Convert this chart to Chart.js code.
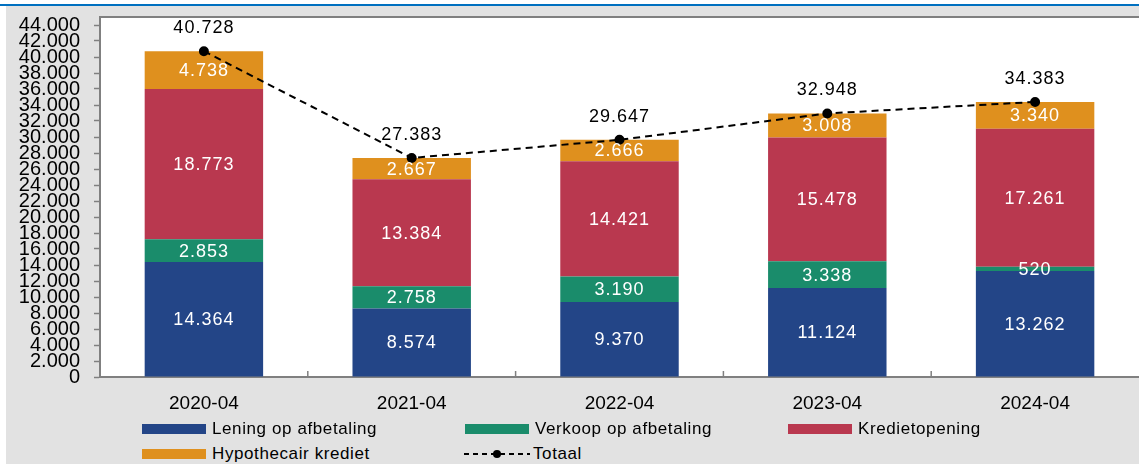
<!DOCTYPE html>
<html>
<head>
<meta charset="utf-8">
<script src="https://cdn.jsdelivr.net/npm/chart.js@4.4.1/dist/chart.umd.min.js"></script>
<style>
  html, body { margin: 0; padding: 0; }
  body { width: 1139px; height: 464px; overflow: hidden; position: relative; background: #fff; font-family: "Liberation Sans", Arial, sans-serif; }
  #topline { position: absolute; left: 0; top: 4px; width: 1139px; height: 2px; background: #0070c0; }
  #panel { position: absolute; left: 6px; top: 6px; width: 1133px; height: 458px; background: #e2e2e2; }
  #wrap { position: absolute; left: 0; top: 0; width: 1145px; height: 420px; }
  .leg { position: absolute; font-size: 17px; color: #000; letter-spacing: 0.6px; line-height: 20px; white-space: nowrap; }
  .sw { position: absolute; height: 10px; }
</style>
</head>
<body>
<div id="topline"></div>
<div id="panel"></div>
<div id="wrap"><canvas id="chart"></canvas></div>
<div id="legend"></div>
<script>
// data
const categories = ['2020-04', '2021-04', '2022-04', '2023-04', '2024-04'];
const leningOpAfbetaling = [14364, 8574, 9370, 11124, 13262];
const verkoopOpAfbetaling = [2853, 2758, 3190, 3338, 520];
const kredietopening = [18773, 13384, 14421, 15478, 17261];
const hypothecairKrediet = [4738, 2667, 2666, 3008, 3340];
const totaal = [40728, 27383, 29647, 32948, 34383];
const yTicks = [0, 2000, 4000, 6000, 8000, 10000, 12000, 14000, 16000, 18000, 20000, 22000,
  24000, 26000, 28000, 30000, 32000, 34000, 36000, 38000, 40000, 42000, 44000];

const colors = {
  lening: '#234587',
  verkoop: '#1a8c6b',
  krediet: '#b9384f',
  hypo: '#df901e'
};

const fmt = v => String(v).replace(/\B(?=(\d{3})+(?!\d))/g, '.');

// labels inside the bars and above the total line
const labelPlugin = {
  id: 'valueLabels',
  beforeDraw(chart) {
    const { ctx, chartArea: a } = chart;
    ctx.save();
    ctx.fillStyle = '#fff';
    ctx.fillRect(a.left, a.top, a.right - a.left, a.bottom - a.top);
    ctx.restore();
  },
  afterDatasetsDraw(chart) {
    const ctx = chart.ctx;
    ctx.save();
    ctx.textAlign = 'center';
    ctx.textBaseline = 'middle';
    ctx.letterSpacing = '1px';
    ctx.font = '18px "Liberation Sans", Arial, sans-serif';
    chart.data.datasets.forEach((ds, i) => {
      const meta = chart.getDatasetMeta(i);
      if (ds.type === 'line') {
        ctx.fillStyle = '#000';
        meta.data.forEach((pt, j) => ctx.fillText(fmt(ds.data[j]), pt.x, pt.y - 23));
      } else {
        ctx.fillStyle = '#fff';
        meta.data.forEach((bar, j) => ctx.fillText(fmt(ds.data[j]), bar.x, (bar.y + bar.base) / 2 + 1));
      }
    });
    ctx.restore();
  },
  afterDraw(chart) {
    // plot frame top + small inward ticks between categories
    const { ctx, chartArea: a } = chart;
    const x = chart.scales.x;
    ctx.save();
    ctx.strokeStyle = '#808080';
    ctx.lineWidth = 2;
    ctx.beginPath();
    ctx.moveTo(a.left, a.top);
    ctx.lineTo(a.right, a.top);
    ctx.stroke();
    ctx.lineWidth = 1.5;
    for (let i = 1; i < categories.length; i++) {
      const px = (x.getPixelForValue(i - 1) + x.getPixelForValue(i)) / 2;
      ctx.beginPath();
      ctx.moveTo(px, a.bottom);
      ctx.lineTo(px, a.bottom - 6);
      ctx.stroke();
    }
    ctx.restore();
  }
};

const barDs = (label, data, color) => ({
  type: 'bar', label, data, backgroundColor: color, stack: 'bars', order: 1,
  barPercentage: 0.57, categoryPercentage: 1
});

new Chart(document.getElementById('chart'), {
  data: {
    labels: categories,
    datasets: [
      barDs('Lening op afbetaling', leningOpAfbetaling, colors.lening),
      barDs('Verkoop op afbetaling', verkoopOpAfbetaling, colors.verkoop),
      barDs('Kredietopening', kredietopening, colors.krediet),
      barDs('Hypothecair krediet', hypothecairKrediet, colors.hypo),
      {
        type: 'line', label: 'Totaal', data: totaal, stack: 'total', order: 0,
        borderColor: '#000', borderWidth: 2, borderDash: [7, 5],
        pointRadius: 4, pointBackgroundColor: '#000', pointBorderColor: '#000',
        tension: 0, fill: false
      }
    ]
  },
  options: {
    responsive: true,
    maintainAspectRatio: false,
    animation: false,
    layout: { padding: { top: 17, left: 0, right: 0, bottom: 0 } },
    plugins: { legend: { display: false }, tooltip: { enabled: false } },
    scales: {
      x: {
        stacked: true,
        grid: { display: false },
        border: { color: '#808080', width: 2 },
        ticks: { color: '#000', padding: 7, font: { family: '"Liberation Sans", Arial', size: 19 } },
        afterFit(s) { s.height = 43; }
      },
      y: {
        stacked: true,
        min: 0,
        max: 45000,
        afterBuildTicks(s) { s.ticks = yTicks.map(v => ({ value: v })); },
        grid: { drawOnChartArea: false, drawTicks: true, tickLength: 6, color: '#808080', tickWidth: 1.5 },
        border: { color: '#808080', width: 2 },
        ticks: {
          color: '#000', padding: 14, autoSkip: false,
          font: { family: '"Liberation Sans", Arial', size: 20, lineHeight: 1 },
          callback: v => fmt(v)
        },
        afterFit(s) {
          s.width = 100;
          s.paddingTop = 0;
          s.paddingBottom = 0;
        }
      }
    }
  },
  plugins: [labelPlugin]
});

// legend built from the dataset names
const legendItems = [
  { label: 'Lening op afbetaling', color: colors.lening, col: 0, row: 0 },
  { label: 'Verkoop op afbetaling', color: colors.verkoop, col: 1, row: 0 },
  { label: 'Kredietopening', color: colors.krediet, col: 2, row: 0 },
  { label: 'Hypothecair krediet', color: colors.hypo, col: 0, row: 1 },
  { label: 'Totaal', line: true, col: 1, row: 1 }
];
const legend = document.getElementById('legend');
const colX = [142, 465, 788];
const rowY = [429, 454];
legendItems.forEach(it => {
  const x = colX[it.col], y = rowY[it.row];
  if (it.line) {
    const c = document.createElement('canvas');
    c.width = 68; c.height = 12;
    c.style.cssText = `position:absolute;left:${x - 1}px;top:${y - 6}px;`;
    const g = c.getContext('2d');
    g.strokeStyle = '#000'; g.lineWidth = 2; g.setLineDash([5, 4]);
    g.beginPath(); g.moveTo(0, 6); g.lineTo(66, 6); g.stroke();
    g.beginPath(); g.arc(33, 6, 4, 0, Math.PI * 2); g.fillStyle = '#000'; g.fill();
    legend.appendChild(c);
  } else {
    const s = document.createElement('div');
    s.className = 'sw';
    s.style.cssText = `left:${x}px;top:${y - 5}px;width:64px;background:${it.color};`;
    legend.appendChild(s);
  }
  const t = document.createElement('div');
  t.className = 'leg';
  t.textContent = it.label;
  t.style.left = (x + (it.line ? 68 : 70)) + 'px';
  t.style.top = (y - 10) + 'px';
  legend.appendChild(t);
});
</script>
</body>
</html>
